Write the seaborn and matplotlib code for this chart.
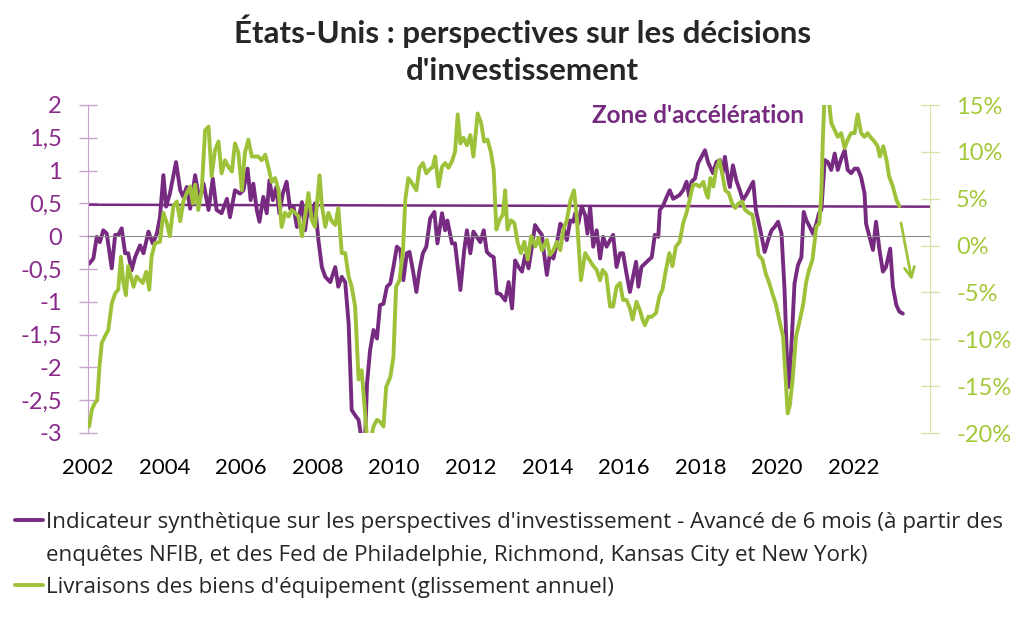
import numpy as np
import pandas as pd
import seaborn as sns
import matplotlib.pyplot as plt
from matplotlib.lines import Line2D
from matplotlib.ticker import FuncFormatter

# couleurs
violet = "#762B80"
vert = "#9DC23A"

# indicateur synthétique (axe gauche), années depuis 2002
ind_t = [0.03, 0.14, 0.23, 0.31, 0.40, 0.49, 0.62, 0.71, 0.79, 0.88,
         0.97, 1.05, 1.14, 1.23, 1.36, 1.45, 1.58, 1.69, 1.80, 1.88,
         1.97, 2.04, 2.14, 2.30, 2.41, 2.49, 2.58, 2.67, 2.80, 2.91,
         3.02, 3.15, 3.26, 3.36, 3.49, 3.63, 3.71, 3.84, 3.97, 4.06,
         4.17, 4.25, 4.32, 4.41, 4.48, 4.58, 4.67, 4.74, 4.83, 4.92,
         5.00, 5.09, 5.19, 5.28, 5.37, 5.46, 5.59, 5.67, 5.76, 5.85,
         5.93, 6.02, 6.11, 6.20, 6.33, 6.46, 6.54, 6.63, 6.72, 6.81,
         6.89, 6.98, 7.07, 7.15, 7.24, 7.29, 7.37, 7.46, 7.55, 7.63,
         7.72, 7.81, 7.90, 7.98, 8.07, 8.16, 8.24, 8.33, 8.40, 8.49,
         8.58, 8.66, 8.75, 8.84, 8.94, 9.05, 9.13, 9.25, 9.33, 9.39,
         9.51, 9.59, 9.73, 9.83, 9.90, 9.99, 10.07, 10.16, 10.25, 10.34,
         10.42, 10.51, 10.60, 10.68, 10.77,
         10.90, 10.99, 11.08, 11.16, 11.25, 11.34, 11.42, 11.51, 11.60, 11.68,
         11.77, 11.86, 11.90, 11.99, 12.07, 12.16, 12.25, 12.34, 12.42, 12.51,
         12.60, 12.68, 12.73, 12.81, 12.90, 12.99, 13.05, 13.12, 13.20, 13.29,
         13.38, 13.46, 13.55, 13.64, 13.72, 13.81, 13.90, 13.98, 14.07, 14.16,
         14.25, 14.32, 14.38, 14.46, 14.60, 14.73, 14.81, 14.90, 14.94, 15.03,
         15.12, 15.20, 15.29, 15.38, 15.46, 15.55, 15.64, 15.71, 15.77, 15.86,
         15.94, 16.03, 16.12, 16.20, 16.33, 16.42, 16.51, 16.58, 16.64, 16.72,
         16.77, 16.85, 16.94, 17.03, 17.11, 17.20, 17.29, 17.38, 17.45, 17.53,
         17.62, 17.68, 17.77, 17.86, 17.94, 18.03, 18.12, 18.20, 18.26, 18.32,
         18.40, 18.46, 18.55, 18.64, 18.70, 18.77, 18.86, 18.94, 19.03, 19.10,
         19.16, 19.25, 19.33, 19.42, 19.51, 19.59, 19.68, 19.77, 19.85, 19.94,
         20.03, 20.11, 20.20, 20.29, 20.33, 20.42, 20.51, 20.59, 20.68, 20.77,
         20.85, 20.96, 21.03, 21.12, 21.20, 21.29]
ind_v = [-0.42, -0.34, -0.01, -0.09, 0.09, 0.04, -0.49, 0.02, 0.02, 0.12,
         -0.26, -0.26, -0.52, -0.32, -0.14, -0.26, 0.07, -0.11, 0.04, 0.29,
         0.93, 0.45, 0.65, 1.13, 0.70, 0.60, 0.75, 0.42, 0.93, 0.55,
         0.80, 0.40, 0.88, 0.40, 0.35, 0.57, 0.29, 0.70, 0.65, 0.70,
         1.03, 0.55, 0.80, 0.40, 0.22, 0.60, 0.35, 0.85, 0.55, 0.75,
         0.35, 0.65, 0.83, 0.42, 0.45, 0.14, 0.52, 0.09, 0.47, 0.27,
         0.50, -0.06, -0.47, -0.62, -0.70, -0.47, -0.77, -0.62, -0.70, -1.33,
         -2.65, -2.73, -2.80, -3.10, -3.10, -2.25, -1.74, -1.43, -1.56, -1.05,
         -1.03, -0.77, -0.72, -0.47, -0.16, -0.21, -0.67, -0.26, -0.24, -0.52,
         -0.85, -0.52, -0.26, -0.16, 0.27, 0.37, -0.11, 0.35, 0.09, 0.24,
         -0.11, -0.11, -0.82, -0.21, 0.09, -0.26, 0.07, -0.01, -0.09, 0.09,
         -0.24, -0.29, -0.32, -0.87, -0.88,
         -0.98, -0.70, -1.10, -0.37, -0.47, -0.54, -0.29, -0.49, -0.16, 0.17,
         0.09, 0.02, -0.19, -0.59, -0.26, -0.34, -0.11, 0.19, 0.14, -0.06,
         0.24, 0.22, 0.35, 0.19, 0.45, 0.32, 0.04, 0.45, -0.16, 0.09,
         -0.34, -0.01, -0.16, -0.06, 0.02, -0.47, -0.26, -0.26, -0.57, -0.85,
         -0.59, -0.39, -0.77, -0.47, -0.39, -0.32, 0.02, -0.01, 0.40, 0.47,
         0.60, 0.70, 0.57, 0.60, 0.63, 0.70, 0.83, 0.60, 0.83, 0.88,
         1.11, 1.21, 1.31, 1.13, 0.96, 1.13, 1.16, 0.96, 1.21, 0.90,
         0.75, 1.08, 0.85, 0.70, 0.55, 0.63, 0.73, 0.83, 0.40, 0.19,
         -0.06, -0.24, -0.06, 0.09, 0.14, 0.22, 0.04, -0.82, -1.84, -2.30,
         -1.43, -0.72, -0.44, -0.32, 0.37, 0.24, 0.14, 0.04, 0.19, 0.35,
         0.40, 1.16, 1.13, 1.01, 1.26, 1.01, 1.18, 1.31, 1.01, 0.96,
         1.03, 1.03, 0.90, 0.65, 0.19, -0.01, -0.21, 0.22, -0.21, -0.54,
         -0.47, -0.19, -0.77, -1.05, -1.15, -1.18]

# livraisons de biens d'équipement, % sur un an (axe droit)
liv_t = [0.03, 0.10, 0.18, 0.24, 0.30, 0.36, 0.44, 0.53, 0.62, 0.71,
         0.79, 0.86, 0.92, 0.99, 1.05, 1.12, 1.19, 1.27, 1.36, 1.43,
         1.52, 1.60, 1.66, 1.75, 1.88, 1.97, 2.06, 2.14, 2.23, 2.32,
         2.41, 2.49, 2.58, 2.67, 2.74, 2.80, 2.88, 2.97, 3.06, 3.15,
         3.23, 3.32, 3.41, 3.49, 3.58, 3.67, 3.76, 3.84, 3.93, 4.02,
         4.10, 4.19, 4.28, 4.37, 4.45, 4.54, 4.63, 4.71, 4.80, 4.89,
         4.98, 5.06, 5.15, 5.24, 5.32, 5.41, 5.50, 5.59, 5.67, 5.76,
         5.85, 5.93, 6.05, 6.11, 6.20, 6.28, 6.37, 6.46, 6.54, 6.63,
         6.72, 6.81, 6.89, 6.98, 7.07, 7.15, 7.24, 7.30, 7.37, 7.46,
         7.55, 7.63, 7.72, 7.79, 7.90, 7.98, 8.05, 8.14, 8.23, 8.29,
         8.37, 8.46, 8.58, 8.66, 8.75, 8.84, 8.92, 9.01, 9.07, 9.16,
         9.25, 9.33, 9.42, 9.51, 9.59, 9.66, 9.73, 9.81, 9.90, 9.99,
         10.07, 10.18, 10.27, 10.35, 10.44, 10.53, 10.60, 10.67, 10.75, 10.84,
         10.90,
         10.96, 11.05, 11.14, 11.23, 11.31, 11.40, 11.49, 11.58, 11.69, 11.77,
         11.86, 11.99, 12.07, 12.16, 12.25, 12.34, 12.42, 12.51, 12.61, 12.70,
         12.77, 12.88, 12.99, 13.08, 13.19, 13.29, 13.38, 13.45, 13.54, 13.64,
         13.72, 13.81, 13.90, 13.98, 14.07, 14.16, 14.23, 14.33, 14.42, 14.49,
         14.55, 14.64, 14.73, 14.84, 14.93, 15.01, 15.10, 15.19, 15.27, 15.36,
         15.46, 15.55, 15.64, 15.72, 15.81, 15.90, 15.98, 16.08, 16.15, 16.20,
         16.26, 16.34, 16.41, 16.50, 16.57, 16.65, 16.74, 16.83, 16.91, 17.00,
         17.09, 17.17, 17.26, 17.36, 17.43, 17.52, 17.62, 17.71, 17.80, 17.88,
         17.97, 18.06, 18.16, 18.23, 18.28, 18.34, 18.41, 18.50, 18.58, 18.69,
         18.76, 18.84, 18.93, 19.03, 19.11, 19.16, 19.20, 19.25, 19.33, 19.42,
         19.51, 19.59, 19.68, 19.77, 19.85, 19.94, 20.03, 20.11, 20.20, 20.29,
         20.37, 20.46, 20.55, 20.63, 20.69, 20.78, 20.87, 20.93, 21.03, 21.12,
         21.20]
liv_v = [-19.3, -17.5, -16.8, -16.5, -12.9, -10.4, -9.7, -9.0, -6.2, -5.1,
         -4.7, -1.2, -3.8, -5.3, -2.2, -3.3, -4.4, -3.3, -3.7, -4.0,
         -2.8, -4.7, -1.2, 0.25, 0.4, 3.5, 2.4, 1.0, 4.2, 4.7,
         2.6, 4.7, 5.6, 6.3, 4.5, 6.5, 3.8, 5.8, 12.3, 12.7,
         7.4, 10.2, 11.1, 7.7, 9.1, 8.4, 7.9, 10.9, 9.9, 5.9,
         9.9, 11.3, 9.5, 9.5, 9.5, 9.1, 9.7, 8.4, 6.8, 7.2,
         5.9, 2.0, 3.5, 3.1, 3.8, 3.5, 3.1, 1.0, 3.1, 5.6,
         2.7, 2.0, 7.5, 4.3, 2.0, 3.5, 2.6, 2.2, 4.0, -0.8,
         -0.8, -3.3, -4.4, -6.5, -14.3, -13.3, -17.9, -21.0, -21.0, -19.3,
         -18.6, -18.8, -19.3, -15.1, -14.0, -11.9, -4.4, -3.7, -0.5, 4.9,
         7.2, 6.7, 5.9, 8.3, 8.8, 7.7, 8.1, 8.4, 9.5, 6.3,
         8.4, 8.8, 8.3, 9.0, 10.0, 14.0, 10.9, 11.5, 10.7, 11.8,
         9.5, 14.1, 13.1, 11.1, 11.3, 9.9, 8.1, 1.7, 2.7, 3.3,
         5.9,
         1.7, 2.7, 2.4, 0.25, -0.8, 0.4, -1.5, 1.0, -0.1, 0.8,
         -0.5, 0.6, -1.0, -0.5, 0.4, -0.5, 1.7, 2.7, 4.9, 5.9,
         3.1, -3.7, -0.8, -1.4, -2.1, -2.6, -3.7, -2.6, -3.1, -6.5,
         -6.5, -4.4, -4.0, -5.8, -5.8, -6.7, -7.9, -6.0, -6.9, -7.9,
         -8.5, -7.6, -7.6, -7.2, -5.4, -4.7, -2.6, -0.8, -2.2, -0.1,
         0.4, 2.4, 3.5, 4.9, 6.5, 6.5, 6.3, 6.8, 5.6, 5.1,
         7.2, 6.3, 8.1, 9.1, 7.7, 5.9, 5.6, 4.5, 4.0, 4.5,
         4.7, 3.8, 3.5, 3.3, 1.7, -1.0, -1.5, -3.0, -4.0, -5.1,
         -6.2, -7.9, -9.7, -14.3, -17.9, -17.0, -14.3, -9.7, -8.3, -6.2,
         -4.0, -2.6, -1.5, 2.0, 2.4, 5.6, 11.3, 16.6, 16.6, 13.1,
         12.3, 11.6, 12.0, 10.4, 11.3, 12.0, 12.0, 14.0, 12.0, 11.6,
         12.0, 11.5, 11.1, 10.6, 9.5, 10.6, 9.0, 7.4, 6.3, 4.9,
         4.2]

# seuil "zone d'accélération"
seuil_x = [2002, 2024]
seuil_y = [0.48, 0.45]

# flèche de projection (axe droit)
fleche_x = [2023.23, 2023.54]
fleche_y = [2.7, -4.0]

annees = list(range(2002, 2025, 2))
annees_lbl = [str(a) for a in range(2002, 2023, 2)] + [""]

# légende : le libellé long tient sur deux lignes
lbl_ind_1 = "Indicateur synthètique sur les perspectives d'investissement - Avancé de 6 mois (à partir des"
lbl_ind_2 = "enquêtes NFIB, et des Fed de Philadelphie, Richmond, Kansas City et New York)"
lbl_liv = "Livraisons des biens d'équipement (glissement annuel)"

df_ind = pd.DataFrame({"annee": 2002 + np.array(ind_t), "valeur": ind_v})
df_liv = pd.DataFrame({"annee": 2002 + np.array(liv_t), "valeur": liv_v})
df_seuil = pd.DataFrame({"annee": seuil_x, "valeur": seuil_y})

sns.set_style("white")
plt.rcParams["font.family"] = ["Lato", "DejaVu Sans"]

fig = plt.figure(figsize=(10.24, 6.33), dpi=100)
ax = fig.add_axes([88 / 1024, 1 - 433 / 633, (930 - 88) / 1024, (433 - 105) / 633])
ax2 = ax.twinx()

sns.lineplot(data=df_seuil, x="annee", y="valeur", ax=ax, color=violet, lw=1.8)
sns.lineplot(data=df_ind, x="annee", y="valeur", ax=ax, color=violet, lw=2.8)
sns.lineplot(data=df_liv, x="annee", y="valeur", ax=ax2, color=vert, lw=2.8)

ax.set_xlim(2002, 2024)
ax.set_ylim(-3, 2)
ax2.set_ylim(-20, 15)

# axe des x sur le zéro
ax.spines["bottom"].set_position(("data", 0))
ax.spines["bottom"].set_color("#8a8a8a")
ax.spines["top"].set_visible(False)
ax.spines["right"].set_visible(False)
ax.spines["left"].set_color("#c9a3cd")
ax2.spines["top"].set_visible(False)
ax2.spines["bottom"].set_visible(False)
ax2.spines["left"].set_visible(False)
ax2.spines["right"].set_color("#d3e5a6")

ax.set_xticks(annees)
ax.tick_params(axis="x", direction="inout", length=13, width=1, color="#8a8a8a", labelbottom=False)
sec = ax.secondary_xaxis("bottom")
sec.set_xticks(annees, annees_lbl)
sec.spines["bottom"].set_visible(False)
sec.tick_params(length=0, pad=18, labelsize=16, labelcolor="black")

ax.set_yticks(np.arange(-3, 2.01, 0.5))
ax.yaxis.set_major_formatter(FuncFormatter(lambda v, p: f"{v:g}".replace(".", ",")))
ax.tick_params(axis="y", direction="inout", length=13.5, width=1, color="#c9a3cd",
               labelcolor="#8a2b8c", labelsize=17, pad=12)
ax2.set_yticks(np.arange(-20, 15.1, 5))
ax2.yaxis.set_major_formatter(FuncFormatter(lambda v, p: f"{v:.0f}%"))
ax2.tick_params(axis="y", direction="inout", length=13.5, width=1, color="#d3e5a6",
                labelcolor="#a3c93a", labelsize=17, pad=12)
ax.set_xlabel("")
ax.set_ylabel("")
ax2.set_ylabel("")

ax.text(2017.95, 1.84, "Zone d'accélération", color=violet, fontsize=17.5,
        fontweight="bold", ha="center", va="center")

ax2.annotate("", xy=(fleche_x[1], fleche_y[1]), xytext=(fleche_x[0], fleche_y[0]),
             arrowprops=dict(arrowstyle="->", color=vert, lw=2, mutation_scale=18))

fig.text(0.51, 1 - 50 / 633,
         "États-Unis : perspectives sur les décisions\nd'investissement",
         ha="center", va="center", fontsize=22.5, fontweight="bold", linespacing=1.38)

handles = [Line2D([], [], color=violet, lw=2.8),
           Line2D([], [], color="none"),
           Line2D([], [], color=vert, lw=2.8)]
leg = fig.legend(handles, [lbl_ind_1, lbl_ind_2, lbl_liv], loc="upper left",
                 bbox_to_anchor=(15 / 1024, 1 - 512 / 633), frameon=False,
                 prop={"family": ["Open Sans", "DejaVu Sans"], "size": 16.1},
                 handlelength=1.25, handletextpad=0.15, labelspacing=0.52,
                 borderpad=0, borderaxespad=0)

fig.savefig("out.png", dpi=100)
